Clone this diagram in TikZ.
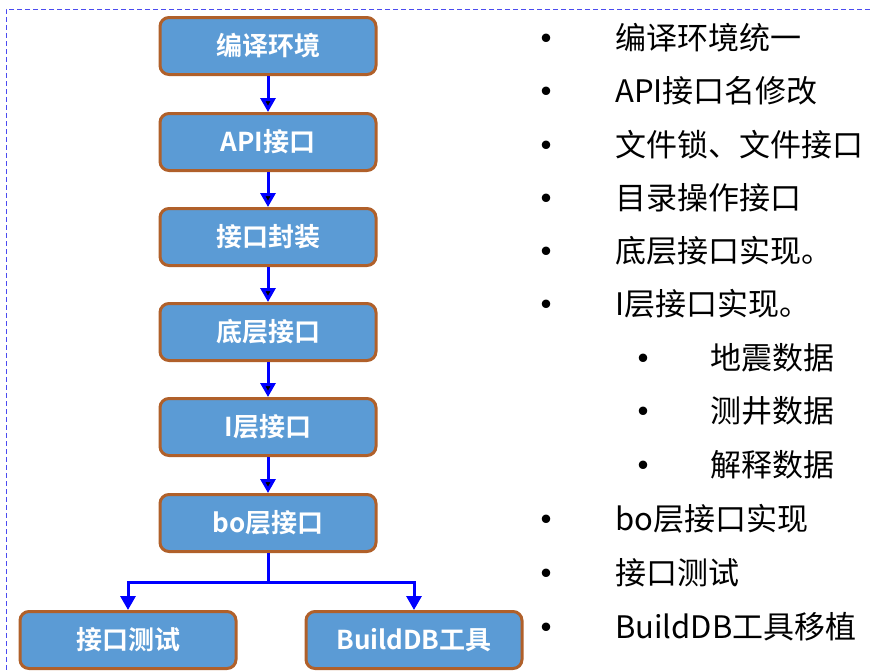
\documentclass[tikz,border=0pt]{standalone}
\usepackage{fontspec}
\newfontfamily\cjk[BoldFont={Noto Sans CJK SC Bold}]{Noto Sans CJK SC}
\usetikzlibrary{arrows.meta}

\definecolor{boxblue}{HTML}{5B9BD5}
\definecolor{boxedge}{HTML}{B0602A}
\definecolor{framedash}{HTML}{4B4BF0}

\tikzset{
  stage/.style={draw=boxedge, fill=boxblue, line width=3pt, rounded corners=9pt,
    minimum width=216pt, minimum height=57pt, text=white,
    font=\cjk\bfseries\fontsize{26}{30}\selectfont},
  flow/.style={draw=blue, line width=3pt, -{Triangle[width=15pt,length=14pt]}},
  item/.style={anchor=west, inner sep=0pt, font=\cjk\fontsize{31}{36}\selectfont},
  bul/.style={inner sep=0pt, font=\cjk\fontsize{40}{44}\selectfont}
}

\begin{document}
\begin{tikzpicture}[x=1pt,y=-1pt]
  \useasboundingbox (0,0) rectangle (870,670);
  \draw[framedash, line width=1pt, dash pattern=on 5pt off 3pt] (870,9) -- (6,9) -- (6,670);

  % main chain
  \draw (268,46) node[stage] (bianyi) {编译环境};
  \draw (268,142) node[stage] (api) {API接口};
  \draw (268,237) node[stage] (fengzhuang) {接口封装};
  \draw (268,332) node[stage] (diceng) {底层接口};
  \draw (268,427) node[stage] (iceng) {I层接口};
  \draw (268,523) node[stage] (boceng) {bo层接口};
    \path[flow] (bianyi) edge (api);
    \path[flow] (api) edge (fengzhuang);
    \path[flow] (fengzhuang) edge (diceng);
    \path[flow] (diceng) edge (iceng);
    \path[flow] (iceng) edge (boceng);

  % branch
  \draw (128,640) node[stage] (ceshi) {接口测试};
  \draw (414,640) node[stage] (builddb) {BuildDB工具};
  \coordinate (fork) at (268,582);
    \draw[flow, -] (boceng) -- (fork);
    \draw[flow] (fork) -| (ceshi);
    \draw[flow] (fork) -| (builddb);

  % list on the right
  \draw (546,44) node[bul] (d1) {•};     \draw (615,38) node[item] (t1) {编译环境统一};
  \draw (546,97) node[bul] (d2) {•};     \draw (615,91) node[item] (t2) {API接口名修改};
  \draw (546,151) node[bul] (d3) {•};    \draw (615,145) node[item] (t3) {文件锁、文件接口};
  \draw (546,204) node[bul] (d4) {•};    \draw (615,198) node[item] (t4) {目录操作接口};
  \draw (546,257) node[bul] (d5) {•};    \draw (615,251) node[item] (t5) {底层接口实现。};
  \draw (546,310) node[bul] (d6) {•};    \draw (615,304) node[item] (t6) {I层接口实现。};
  \draw (643,364) node[bul] (d7) {•};    \draw (710,358) node[item] (t7) {地震数据};
  \draw (643,417) node[bul] (d8) {•};    \draw (710,411) node[item] (t8) {测井数据};
  \draw (643,471) node[bul] (d9) {•};    \draw (710,465) node[item] (t9) {解释数据};
  \draw (546,525) node[bul] (d10) {•};   \draw (615,519) node[item] (t10) {bo层接口实现};
  \draw (546,579) node[bul] (d11) {•};   \draw (615,573) node[item] (t11) {接口测试};
  \draw (546,633) node[bul] (d12) {•};   \draw (615,627) node[item] (t12) {BuildDB工具移植};
\end{tikzpicture}
\end{document}
